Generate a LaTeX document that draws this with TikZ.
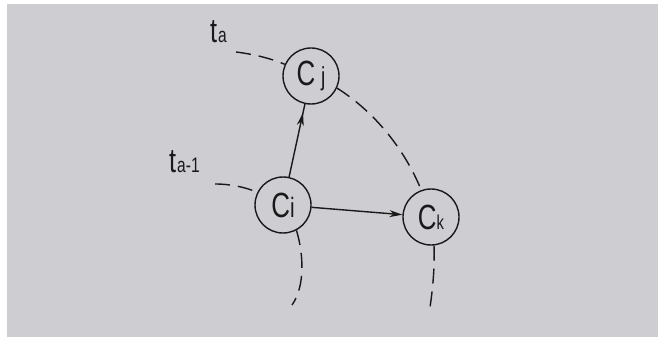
\documentclass[tikz,border=0pt]{standalone}
\usepackage{fontspec}
\setmainfont{Liberation Sans}[FakeStretch=0.74]
\usetikzlibrary{arrows.meta,decorations.markings}
\definecolor{paper}{RGB}{205,205,210}
\definecolor{ink}{RGB}{25,25,25}
\newcommand{\bigC}{\fontsize{35}{35}\selectfont C}
\newcommand{\subl}[2]{{\fontsize{#1}{#1}\selectfont #2}}
\tikzset{
  cell/.style={circle, draw=ink, line width=1.4pt, minimum size=56pt, inner sep=0pt, text=ink},
  track/.style={draw=ink, line width=1.4pt, dash pattern=on 15pt off 8pt},
  link/.style={draw=ink, line width=1.4pt},
  tag/.style={text=ink, inner sep=0pt}
}
\begin{document}
\begin{tikzpicture}[x=1pt, y=-1pt]
  \useasboundingbox (0,0) rectangle (660,347);
  \fill[white] (0,0) rectangle (660,347);
  \fill[paper] (7,4) rectangle (658,337);

  % the three cells
  \node[cell] (Cj) at (311,76) {\bigC\,\subl{26}{j}};
  \node[cell] (Ci) at (283,205) {\bigC\subl{28}{i}};
  \node[cell] (Ck) at (431,217) {\bigC\subl{20}{k}};

  % time labels
  \node[tag, anchor=base west] (ta) at (210,43) {\fontsize{34}{34}\selectfont t\kern1pt\subl{21}{a}};
  \node[tag, anchor=base west] (ta1) at (169,173) {\fontsize{34}{34}\selectfont t\kern1pt\subl{21}{a-1}};

  % free ends of the time curves
  \coordinate (taStart) at (236,52);
  \coordinate (taEnd) at (429,314);
  \coordinate (tbStart) at (215,184);
  \coordinate (tbEnd) at (292,305);

  % curve t_a through Cj and Ck
  \draw[track] (taStart) .. controls (252,54) and (270,58) .. (Cj.156);
  \draw[track] (Cj.-25) .. controls (375,112) and (405,150) .. (Ck.110);
  \draw[track] (Ck.-84) .. controls (435,270) and (432,295) .. (taEnd);

  % curve t_{a-1} through Ci
  \draw[track] (tbStart) .. controls (232,184) and (248,188) .. (Ci.154);
  \draw[track] (Ci.-62) .. controls (303,252) and (306,285) .. (tbEnd);

  % causal links
  \draw[link, decoration={markings, mark=at position 0.88 with {\arrow{Stealth[length=13pt,width=7pt]}}}, postaction={decorate}]
    (Ci) -- (Cj);
  \draw[link, -{Stealth[length=13pt,width=7pt]}] (Ci) -- (Ck);
\end{tikzpicture}
\end{document}
